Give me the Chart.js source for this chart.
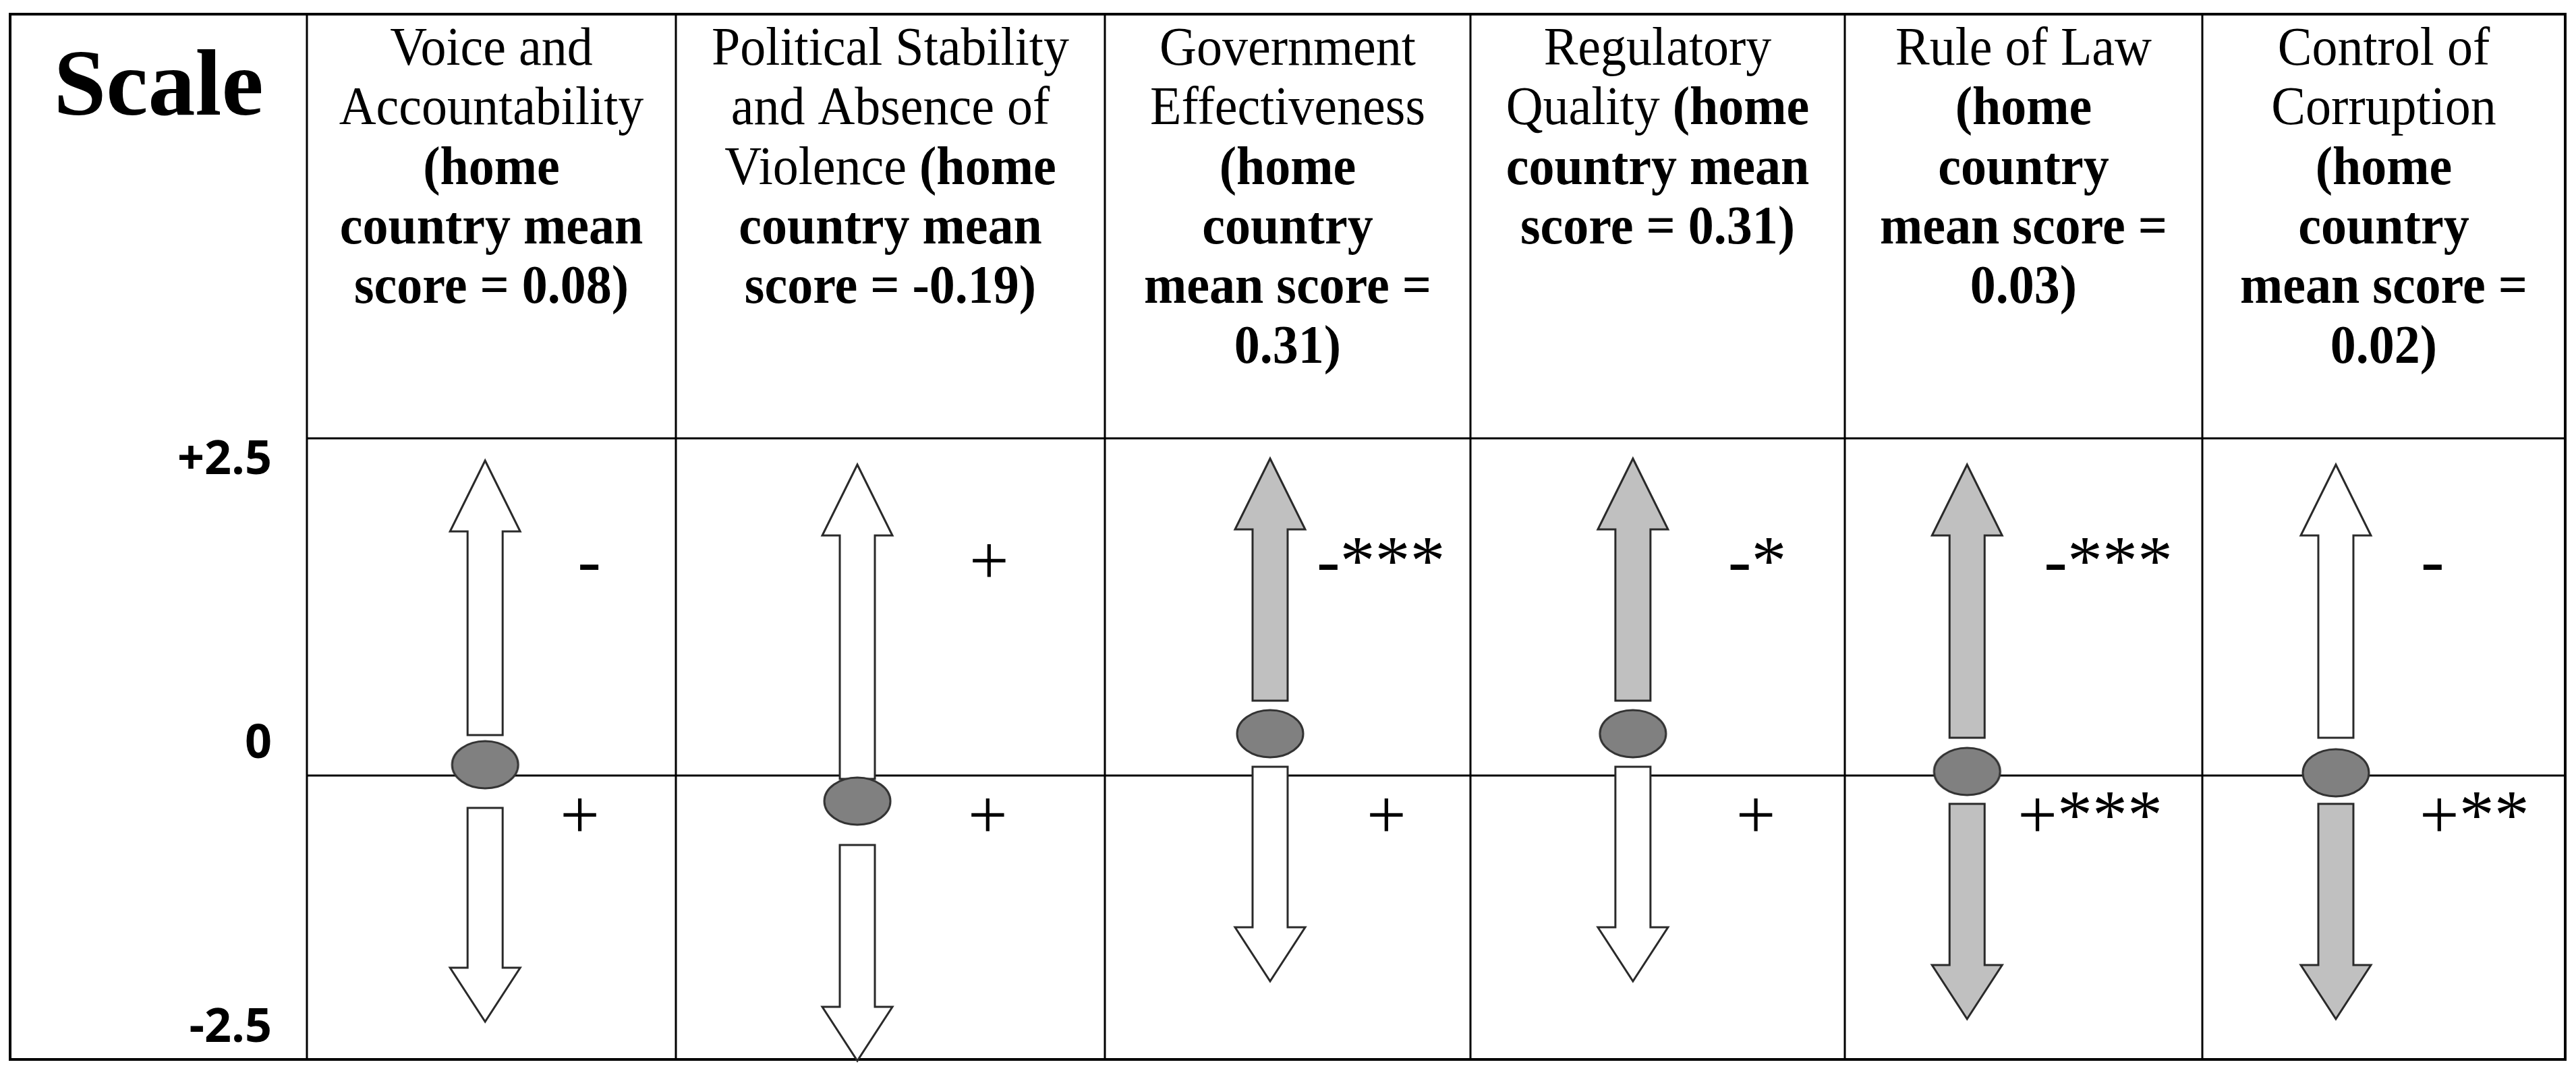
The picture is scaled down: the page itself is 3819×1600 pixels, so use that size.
<!DOCTYPE html>
<html><head><meta charset="utf-8">
<script src="https://cdn.jsdelivr.net/npm/chart.js@4.4.1/dist/chart.umd.min.js"></script>
<style>html,body{margin:0;padding:0;background:#fff;}canvas{display:block;}</style>
</head><body>
<canvas id="c" width="3819" height="1600" style="width:3819px;height:1600px"></canvas>
<script>
// ---------- DATA ----------
const categories = ["Voice and Accountability", "Political Stability and Absence of Violence",
  "Government Effectiveness", "Regulatory Quality", "Rule of Law", "Control of Corruption"];
const meanScores = [0.08, -0.19, 0.31, 0.31, 0.03, 0.02];
const upStart   = [0.30, -0.025, 0.555, 0.555, 0.28, 0.28];
const upEnd     = [2.335, 2.305, 2.35, 2.35, 2.305, 2.305];
const downStart = [-0.24, -0.515, 0.065, 0.065, -0.21, -0.21];
const downEnd   = [-1.825, -2.115, -1.525, -1.525, -1.805, -1.805];
const upLabels   = ["-", "+", "-***", "-*", "-***", "-"];
const downLabels = ["+", "+", "+", "+", "+***", "+**"];
const scaleTickValues = [2.5, 0, -2.5];
const scaleTickLabels = ["+2.5", "0", "-2.5"];
const scaleTitle = "Scale";
const headerNote = "(home country mean score = ";

// ---------- LAYOUT / STYLE ----------
const COL_W = [547, 636, 542, 555, 530, 538];
const ARROW_FRAC = [0.483, 0.423, 0.452, 0.434, 0.342, 0.368];
const HEADER_BREAKS = [[2,1,1,2,3],[2,3,2,2,3],[1,1,1,1,3,1],[1,2,2,3],[3,1,1,3,1],[2,1,1,1,3,1]];
const LABEL_DX_UP = [137,166,69,141,114,126];
const LABEL_DX_DOWN = [111,164,143,153,75,124];
const LABEL_Y_UP = 1.42, LABEL_Y_DOWN = -0.465;
const TABLE_TOP = 21;
const HEAD_FIRST_BASE = 96, HEAD_STEP = 88.3;
const SERIF = '"Liberation Serif", "Times New Roman", serif';

const edges = [0];
COL_W.forEach(w => edges.push(edges[edges.length-1] + w));
const arrowX = COL_W.map((w,i) => edges[i] + ARROW_FRAC[i]*w);

function makeEllipse(){
  const c = document.createElement('canvas'); c.width = 106; c.height = 78;
  const g = c.getContext('2d');
  g.beginPath(); g.ellipse(53, 39, 49, 35, 0, 0, Math.PI*2);
  g.fillStyle = '#808080'; g.fill();
  g.lineWidth = 3; g.strokeStyle = '#333'; g.stroke();
  return c;
}

function drawArrow(ctx, x, p0, p1, fill){
  const dir = p1 < p0 ? -1 : 1;
  const headLen = dir < 0 ? 105 : 80;
  const sw = 52, hw = 104;
  const hb = p1 - dir*headLen;
  ctx.beginPath();
  ctx.moveTo(x - sw/2, p0);
  ctx.lineTo(x - sw/2, hb);
  ctx.lineTo(x - hw/2, hb);
  ctx.lineTo(x, p1);
  ctx.lineTo(x + hw/2, hb);
  ctx.lineTo(x + sw/2, hb);
  ctx.lineTo(x + sw/2, p0);
  ctx.closePath();
  ctx.fillStyle = fill; ctx.fill();
  ctx.lineWidth = 3; ctx.strokeStyle = '#2a2a2a'; ctx.lineJoin = 'miter'; ctx.stroke();
}

function drawHeader(ctx, cx, i){
  const words = categories[i].split(' ').map(t => ({t, b:false}))
    .concat((headerNote + meanScores[i].toFixed(2) + ')').split(' ').map(t => ({t, b:true})));
  const REG = '80px ' + SERIF, BOLD = 'bold 80px ' + SERIF;
  let k = 0;
  HEADER_BREAKS[i].forEach((n, li) => {
    const lw = words.slice(k, k+n); k += n;
    const segs = [];
    lw.forEach((w, j) => {
      const txt = (j > 0 ? ' ' : '') + w.t;
      if (segs.length && segs[segs.length-1].b === w.b) segs[segs.length-1].t += txt;
      else segs.push({t: txt, b: w.b});
    });
    let total = 0;
    segs.forEach(s => { ctx.font = s.b ? BOLD : REG; s.w = ctx.measureText(s.t).width; total += s.w; });
    ctx.save();
    ctx.translate(cx, HEAD_FIRST_BASE + li*HEAD_STEP);
    ctx.scale(0.95, 1);
    let xx = -total/2;
    ctx.textAlign = 'left'; ctx.textBaseline = 'alphabetic'; ctx.fillStyle = '#000';
    segs.forEach(s => { ctx.font = s.b ? BOLD : REG; ctx.fillText(s.t, xx, 0); xx += s.w; });
    ctx.restore();
  });
}

const tablePlugin = {
  id: 'table',
  beforeDatasetsDraw(chart){
    const {ctx, chartArea: ca, scales: {x, y}} = chart;
    const left = chart.options.layout.padding.left;
    ctx.save();
    ctx.strokeStyle = '#000';
    ctx.fillStyle = '#000';
    ctx.font = 'bold 140px ' + SERIF; ctx.textAlign = 'center'; ctx.textBaseline = 'alphabetic';
    ctx.fillText(scaleTitle, (left + ca.left)/2, 170);
    categories.forEach((c, i) => {
      const cx = (x.getPixelForValue(edges[i]) + x.getPixelForValue(edges[i+1]))/2;
      drawHeader(ctx, cx, i);
    });
    ctx.lineWidth = 3;
    ctx.beginPath();
    edges.slice(0, -1).forEach(e => {
      const px = x.getPixelForValue(e);
      ctx.moveTo(px, TABLE_TOP); ctx.lineTo(px, ca.bottom);
    });
    ctx.moveTo(ca.left, ca.top); ctx.lineTo(ca.right, ca.top);
    const z = y.getPixelForValue(0);
    ctx.moveTo(ca.left, z); ctx.lineTo(ca.right, z);
    ctx.stroke();
    ctx.lineWidth = 4;
    ctx.strokeRect(left, TABLE_TOP, ca.right - left, ca.bottom - TABLE_TOP);
    categories.forEach((c, i) => {
      const px = x.getPixelForValue(arrowX[i]);
      drawArrow(ctx, px, y.getPixelForValue(upStart[i]), y.getPixelForValue(upEnd[i]),
        upLabels[i].includes('*') ? '#c0c0c0' : '#ffffff');
      drawArrow(ctx, px, y.getPixelForValue(downStart[i]), y.getPixelForValue(downEnd[i]),
        downLabels[i].includes('*') ? '#c0c0c0' : '#ffffff');
      ctx.fillStyle = '#000';
      ctx.font = '104px ' + SERIF; ctx.textAlign = 'left'; ctx.textBaseline = 'alphabetic';
      ctx.fillText(upLabels[i], px + LABEL_DX_UP[i], y.getPixelForValue(LABEL_Y_UP));
      ctx.fillText(downLabels[i], px + LABEL_DX_DOWN[i], y.getPixelForValue(LABEL_Y_DOWN));
    });
    ctx.restore();
  }
};

const ellipseImg = makeEllipse();
new Chart(document.getElementById('c'), {
  type: 'scatter',
  data: {
    datasets: [{
      label: 'home country mean score',
      data: categories.map((c, i) => ({x: arrowX[i], y: meanScores[i]})),
      pointStyle: ellipseImg,
      pointRadius: 40,
      clip: false
    }]
  },
  options: {
    responsive: false,
    devicePixelRatio: 1,
    animation: false,
    events: [],
    layout: {autoPadding: false, padding: {top: 650, left: 15, right: 16, bottom: 29}},
    plugins: {legend: {display: false}, tooltip: {enabled: false}},
    scales: {
      x: {type: 'linear', min: 0, max: edges[edges.length-1], display: false},
      y: {type: 'linear', min: -2.105, max: 2.5, display: false},
      yS: {
        type: 'linear', position: 'left', min: -2.7345, max: 2.7345,
        afterBuildTicks: s => { s.ticks = scaleTickValues.map(v => ({value: v})); },
        afterFit: s => { s.width = 440; s.paddingTop = 0; s.paddingBottom = 0; },
        grid: {display: false, drawTicks: false},
        border: {display: false},
        ticks: {
          autoSkip: false, padding: 52, labelOffset: -6, color: '#000',
          font: {family: '"Open Sans", sans-serif', weight: 'bold', size: 70},
          callback: v => scaleTickLabels[scaleTickValues.indexOf(v)]
        }
      }
    }
  },
  plugins: [tablePlugin]
});
</script>
</body></html>
